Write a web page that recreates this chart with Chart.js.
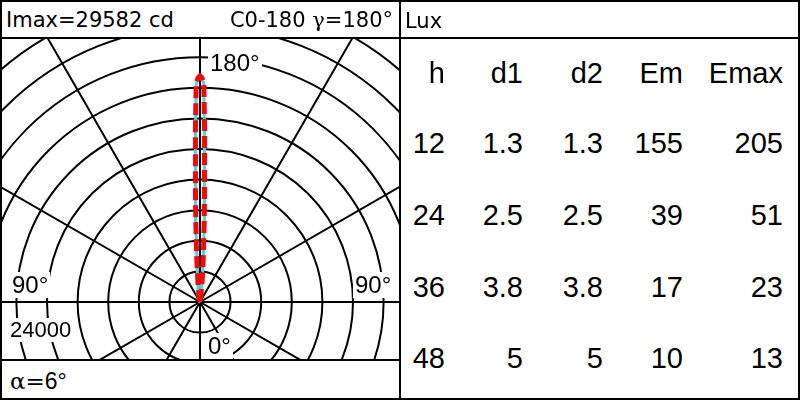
<!DOCTYPE html>
<html lang="en">
  <head>
    <meta charset="UTF-8" />
    <title>Polar light distribution</title>
    <script src="https://cdn.jsdelivr.net/npm/chart.js@4.4.1/dist/chart.umd.min.js"></script>
    <style>
      body { margin: 0; background: #fff; }
      #sheet { position: relative; width: 800px; height: 400px; overflow: hidden; background: #fff; }
      .ln { position: absolute; background: #000; z-index: 5; }
      .t { position: absolute; white-space: nowrap; line-height: 1; color: #000; z-index: 6; }
      .hd { font-family: "DejaVu Sans", sans-serif; font-size: 21px; }
      .lbl { font-family: "Liberation Sans", Arial, sans-serif; font-size: 24px; background: #fff; padding: 1px 2px; }
      .cell { font-family: "Liberation Sans", Arial, sans-serif; font-size: 29px; text-align: right; }
      #polar { position: absolute; left: 0; top: 38px; }
    </style>
  </head>
  <body>
    <div id="sheet">
      <canvas id="polar" width="400" height="322"></canvas>

      <!-- frame -->
      <div class="ln" style="left:0;top:0;width:800px;height:2px"></div>
      <div class="ln" style="left:0;top:398px;width:800px;height:2px"></div>
      <div class="ln" style="left:0;top:0;width:2px;height:400px"></div>
      <div class="ln" style="left:798px;top:0;width:2px;height:400px"></div>
      <div class="ln" style="left:0;top:37px;width:800px;height:2px"></div>
      <div class="ln" style="left:399px;top:0;width:2px;height:400px"></div>
      <div class="ln" style="left:0;top:359px;width:400px;height:2px"></div>

      <div class="t hd" style="left:6px;top:10px">Imax=29582 cd</div>
      <div class="t hd" style="right:407px;top:10px">C0-180 <span style="font-family:'DejaVu Serif',serif">γ</span>=180°</div>
      <div class="t hd" style="left:405px;top:11px">Lux</div>
      <div class="t" style="left:10px;top:370px;font-family:'Liberation Sans',Arial,sans-serif;font-size:23px"><span style="font-family:'DejaVu Serif',serif">α=</span>6°</div>

      <div id="labels"></div>
      <div id="table"></div>
    </div>

    <script>
      // photometric data (cd), deviation from gamma = 180°
      const deviation = [0, 0.5, 1, 1.5, 2, 2.5, 3, 4, 5, 6, 8, 10, 15, 20, 30, 45, 60, 90];
      const c0_180 = [29582, 29300, 28600, 22800, 17000, 13500, 10500, 6500, 4000, 2500, 1000, 400, 150, 80, 20, 0, 0, 0];
      const c90_270 = [29582, 29250, 28500, 22600, 16900, 13400, 10400, 6400, 3900, 2450, 980, 390, 150, 80, 20, 0, 0, 0];

      // grid
      const ringValues = [4000, 8000, 12000, 16000, 20000, 24000, 28000, 32000, 36000, 40000];
      const spokeAngles = [0, 30, 60, 90, 120, 150, 180, 210, 240, 270, 300, 330];

      // table
      const colHeads = ["h", "d1", "d2", "Em", "Emax"];
      const heights = ["12", "24", "36", "48"];
      const d1 = ["1.3", "2.5", "3.8", "5"];
      const d2 = ["1.3", "2.5", "3.8", "5"];
      const em = ["155", "39", "17", "10"];
      const emax = ["205", "51", "23", "13"];

      const cdPerPx = 4000 / 30.6;

      function toPoints(values) {
        const pts = [];
        // C180 side (left), from horizontal up to the axis
        for (let i = deviation.length - 1; i >= 0; i--) {
          const a = (deviation[i] * Math.PI) / 180;
          pts.push({ x: -values[i] * Math.sin(a), y: values[i] * Math.cos(a) });
        }
        // C0 side (right)
        for (let i = 1; i < deviation.length; i++) {
          const a = (deviation[i] * Math.PI) / 180;
          pts.push({ x: values[i] * Math.sin(a), y: values[i] * Math.cos(a) });
        }
        return pts;
      }

      const polarGrid = {
        id: "polarGrid",
        beforeDatasetsDraw(chart) {
          const { ctx, chartArea, scales } = chart;
          const cx = scales.x.getPixelForValue(0);
          const cy = scales.y.getPixelForValue(0);
          ctx.save();
          ctx.beginPath();
          ctx.rect(chartArea.left, chartArea.top, chartArea.right - chartArea.left, chartArea.bottom - chartArea.top);
          ctx.clip();
          ctx.strokeStyle = "#000";
          ctx.lineWidth = 2;
          ringValues.forEach((v) => {
            const r = scales.x.getPixelForValue(v) - cx;
            ctx.beginPath();
            ctx.arc(cx, cy, r, 0, Math.PI * 2);
            ctx.stroke();
          });
          const far = 60000;
          spokeAngles.forEach((deg) => {
            const a = (deg * Math.PI) / 180;
            ctx.beginPath();
            ctx.moveTo(cx, cy);
            ctx.lineTo(scales.x.getPixelForValue(far * Math.sin(a)), scales.y.getPixelForValue(far * Math.cos(a)));
            ctx.stroke();
          });
          ctx.restore();
        },
      };

      new Chart(document.getElementById("polar"), {
        type: "scatter",
        data: {
          datasets: [
            {
              label: "C0-180",
              data: toPoints(c0_180),
              showLine: true,
              borderColor: "rgb(240, 10, 10)",
              borderWidth: 5,
              borderDash: [12, 5],
              borderJoinStyle: "round",
              pointRadius: 0,
              tension: 0,
              order: 0,
            },
            {
              label: "C90-270",
              data: toPoints(c90_270),
              showLine: true,
              borderColor: "rgb(80, 210, 230)",
              borderWidth: 3,
              pointRadius: 0,
              tension: 0,
              order: 1,
            },
          ],
        },
        options: {
          responsive: false,
          animation: false,
          devicePixelRatio: 1,
          layout: { padding: 0 },
          plugins: { legend: { display: false }, tooltip: { enabled: false } },
          scales: {
            x: { type: "linear", min: -200 * cdPerPx, max: 200 * cdPerPx, display: false },
            y: { type: "linear", min: -58 * cdPerPx, max: 264 * cdPerPx, display: false },
          },
        },
        plugins: [polarGrid],
      });

      // angle / scale labels
      const labels = [
        { text: "180°", left: 208, top: 50 },
        { text: "90°", left: 10, top: 272 },
        { text: "90°", left: 353, top: 272 },
        { text: "0°", left: 206, top: 333 },
        { text: "24000", left: 8, top: 318, size: 22 },
      ];
      const lab = document.getElementById("labels");
      labels.forEach((l) => {
        const d = document.createElement("div");
        d.className = "t lbl";
        d.style.left = l.left + "px";
        d.style.top = l.top + "px";
        if (l.size) d.style.fontSize = l.size + "px";
        d.textContent = l.text;
        lab.appendChild(d);
      });

      // table
      const rightEdges = [445, 523, 603, 683, 783];
      const baselines = [83, 153, 225, 297, 368];
      const columns = [heights, d1, d2, em, emax];
      const tbl = document.getElementById("table");
      function cell(text, col, row) {
        const d = document.createElement("div");
        d.className = "t cell";
        d.style.right = 800 - rightEdges[col] + "px";
        d.style.top = baselines[row] - 24.5 + "px";
        d.textContent = text;
        tbl.appendChild(d);
      }
      colHeads.forEach((h, c) => cell(h, c, 0));
      columns.forEach((col, c) => col.forEach((v, r) => cell(v, c, r + 1)));
    </script>
  </body>
</html>
